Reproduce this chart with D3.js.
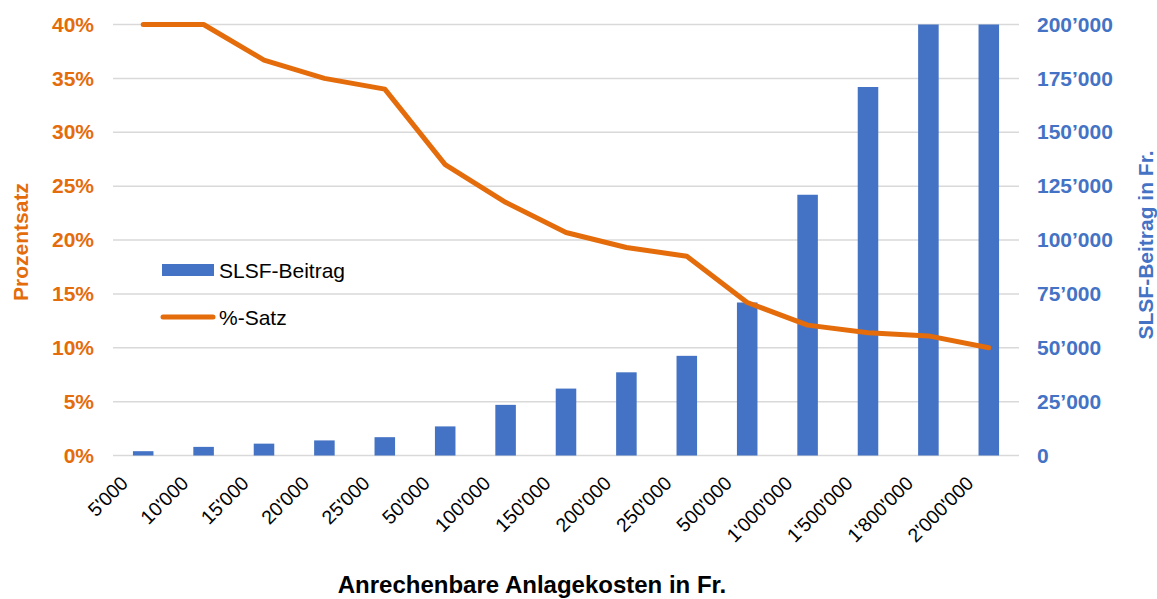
<!DOCTYPE html>
<html>
<head>
<meta charset="utf-8">
<script src="https://cdn.jsdelivr.net/npm/d3@7"></script>
<style>
  body { margin: 0; background: #fff; }
  text { font-family: Arial, "Liberation Sans", sans-serif; }
</style>
</head>
<body>
<script>
// categories (Anrechenbare Anlagekosten)
var kosten = ["5'000", "10'000", "15'000", "20'000", "25'000", "50'000", "100'000",
  "150'000", "200'000", "250'000", "500'000", "1'000'000", "1'500'000", "1'800'000", "2'000'000"]

// SLSF-Beitrag in Fr. (bars, right axis)
var beitrag = [2000, 4000, 5500, 7000, 8500, 13500, 23500, 31050, 38600, 46250,
  71000, 121000, 171000, 200000, 200000]

// %-Satz (line, left axis)
var satz = [40, 40, 36.7, 35, 34, 27, 23.5, 20.7, 19.3, 18.5, 14.2, 12.1, 11.4, 11.1, 10]

var pctTicks = [0, 5, 10, 15, 20, 25, 30, 35, 40]
var frTicks = [0, 25000, 50000, 75000, 100000, 125000, 150000, 175000, 200000]

var orange = "#E46C0A"
var blue = "#4472C4"

var w = 1157, h = 599
var plotL = 113, plotR = 1019, plotT = 24.5, plotB = 455.5

var svg = d3.select("body").append("svg")
  .attr("width", w)
  .attr("height", h)

var x = d3.scaleBand()
  .domain(kosten)
  .range([plotL, plotR])
  .paddingInner(0.66)
  .paddingOuter(0.33)

var yPct = d3.scaleLinear().domain([0, 40]).range([plotB, plotT])
var yFr = d3.scaleLinear().domain([0, 200000]).range([plotB, plotT])

// gridlines
svg.append("g")
  .selectAll("line")
  .data(pctTicks)
  .enter().append("line")
  .attr("x1", plotL).attr("x2", plotR)
  .attr("y1", function(d) { return yPct(d) })
  .attr("y2", function(d) { return yPct(d) })
  .attr("stroke", "#d9d9d9")
  .attr("stroke-width", 1.5)

// bars
svg.append("g")
  .selectAll("rect")
  .data(beitrag)
  .enter().append("rect")
  .attr("x", function(d, i) { return x(kosten[i]) })
  .attr("y", function(d) { return yFr(d) })
  .attr("width", x.bandwidth())
  .attr("height", function(d) { return plotB - yFr(d) })
  .attr("fill", blue)

// line
var line = d3.line()
  .x(function(d, i) { return x(kosten[i]) + x.bandwidth() / 2 })
  .y(function(d) { return yPct(d) })

svg.append("path")
  .datum(satz)
  .attr("d", line)
  .attr("fill", "none")
  .attr("stroke", orange)
  .attr("stroke-width", 5)
  .attr("stroke-linejoin", "round")
  .attr("stroke-linecap", "round")

// left axis
var axL = svg.append("g")
  .attr("transform", "translate(" + plotL + ",0)")
  .call(d3.axisLeft(yPct).tickValues(pctTicks).tickSize(0).tickPadding(19)
    .tickFormat(function(d) { return d + "%" }))
axL.select(".domain").remove()
axL.selectAll("text")
  .attr("fill", orange)
  .attr("font-size", "21px")
  .attr("font-weight", "bold")

// right axis
var fmt = function(d) {
  return d3.format(",")(d).replace(/,/g, "\u2019")
}
var axR = svg.append("g")
  .attr("transform", "translate(" + plotR + ",0)")
  .call(d3.axisRight(yFr).tickValues(frTicks).tickSize(0).tickPadding(18).tickFormat(fmt))
axR.select(".domain").remove()
axR.selectAll("text")
  .attr("fill", blue)
  .attr("font-size", "21px")
  .attr("font-weight", "bold")

// x axis labels
var axX = svg.append("g")
  .attr("transform", "translate(0," + plotB + ")")
  .call(d3.axisBottom(x).tickSize(0).tickPadding(0))
axX.select(".domain").remove()
axX.selectAll("text")
  .attr("font-size", "19.5px")
  .attr("fill", "#000")
  .attr("text-anchor", "end")
  .attr("dy", 0)
  .attr("transform", "translate(-14,29) rotate(-45)")

// axis titles
svg.append("text")
  .attr("transform", "translate(28,242) rotate(-90)")
  .attr("text-anchor", "middle")
  .attr("fill", orange)
  .attr("font-size", "21px")
  .attr("font-weight", "bold")
  .text("Prozentsatz")

svg.append("text")
  .attr("transform", "translate(1153,245) rotate(-90)")
  .attr("text-anchor", "middle")
  .attr("fill", blue)
  .attr("font-size", "21px")
  .attr("font-weight", "bold")
  .text("SLSF-Beitrag in Fr.")

svg.append("text")
  .attr("x", 532)
  .attr("y", 593)
  .attr("text-anchor", "middle")
  .attr("fill", "#000")
  .attr("font-size", "24px")
  .attr("font-weight", "bold")
  .text("Anrechenbare Anlagekosten in Fr.")

// legend
var legend = svg.append("g")
legend.append("rect")
  .attr("x", 162).attr("y", 264)
  .attr("width", 52).attr("height", 12)
  .attr("fill", blue)
legend.append("text")
  .attr("x", 219).attr("y", 278)
  .attr("font-size", "21px")
  .text("SLSF-Beitrag")
legend.append("line")
  .attr("x1", 163).attr("x2", 213)
  .attr("y1", 317).attr("y2", 317)
  .attr("stroke", orange)
  .attr("stroke-width", 5)
  .attr("stroke-linecap", "round")
legend.append("text")
  .attr("x", 219).attr("y", 325)
  .attr("font-size", "21px")
  .text("%-Satz")
</script>
</body>
</html>
